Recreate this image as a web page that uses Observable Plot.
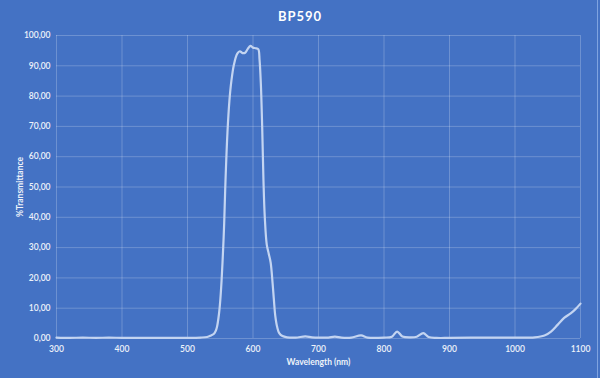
<!DOCTYPE html>
<html>
<head>
<meta charset="utf-8">
<script src="https://cdn.jsdelivr.net/npm/d3@7"></script>
<script src="https://cdn.jsdelivr.net/npm/@observablehq/plot@0.6"></script>
<style>
  html, body { margin: 0; padding: 0; background: #4472C4; }
  #chart { position: relative; width: 600px; height: 378px; background: #4472C4; overflow: hidden; }
  #title { position: absolute; top: 8px; left: 0; width: 600px; text-align: center; font: bold 13px Lato, "Open Sans", sans-serif; color: #ffffff; letter-spacing: 1px; }
  #chart svg { position: absolute; left: 0; top: 0; }
  #border { position: absolute; right: 2px; top: 0; width: 1px; height: 378px; background: #7fa3e0; }
  #chart svg g[aria-label="x-axis label"], #chart svg g[aria-label="y-axis label"] { font-weight: bold; }
</style>
</head>
<body>
<div id="chart"><div id="title">BP590</div><div id="border"></div></div>
<script>
const title = "BP590";
const xLabel = "Wavelength (nm)";
const yLabel = "%Transmittance";
const xTicks = [300, 400, 500, 600, 700, 800, 900, 1000, 1100];
const yTicks = [0, 10, 20, 30, 40, 50, 60, 70, 80, 90, 100];

const wavelength = [300, 320, 340, 360, 380, 400, 420, 440, 460, 480, 500, 520, 530, 535, 540, 543, 545, 548, 550, 552, 554.5, 556, 558, 561, 564, 567, 571, 576, 580, 584, 588, 592, 596, 600, 604, 608, 610, 612, 614, 616, 618, 621, 624, 627, 630, 632, 634, 637, 640, 645, 652, 665, 680, 690, 705, 715, 725, 735, 750, 765, 775, 800, 812, 820, 828, 840, 850, 860, 868, 880, 900, 950, 1000, 1030, 1045, 1055, 1065, 1075, 1085, 1092, 1100];
const transmittance = [0.3, 0.2, 0.3, 0.2, 0.3, 0.2, 0.2, 0.2, 0.2, 0.2, 0.2, 0.3, 0.5, 0.9, 1.5, 2.5, 3.8, 8, 12.5, 19, 30, 38, 52, 68, 78.5, 85, 90.5, 94, 94.8, 94.2, 94.3, 95.6, 96.6, 96.0, 95.8, 95.5, 92, 84, 70, 52, 40, 31, 28, 25, 18, 12.5, 7.5, 3.7, 1.8, 0.8, 0.4, 0.3, 0.7, 0.4, 0.3, 0.3, 0.6, 0.3, 0.3, 1.0, 0.3, 0.3, 0.6, 2.3, 0.7, 0.4, 0.6, 1.75, 0.5, 0.2, 0.2, 0.3, 0.3, 0.4, 1.0, 2.3, 4.5, 6.8, 8.3, 9.6, 11.5];

const data = wavelength.map((w, i) => ({w, t: transmittance[i]}));
const fmt = d => d3.format(".2f")(d).replace(".", ",");
const font = "Lato, 'Open Sans', sans-serif";

const plot = Plot.plot({
  width: 600,
  height: 378,
  marginTop: 35,
  marginBottom: 40,
  marginLeft: 56,
  marginRight: 20,
  style: {background: "transparent", color: "#ffffff", fontFamily: font, fontSize: "8.5px", fontWeight: "600"},
  x: {domain: [300, 1100]},
  y: {domain: [0, 100]},
  marks: [
    Plot.gridX(xTicks, {stroke: "#ffffff", strokeOpacity: 0.22, strokeWidth: 1}),
    Plot.gridY(yTicks, {stroke: "#ffffff", strokeOpacity: 0.22, strokeWidth: 1}),
    Plot.axisX(xTicks, {tickSize: 0, tickPadding: 7, label: xLabel, labelAnchor: "center", labelArrow: "none", labelOffset: 26, tickFormat: d => String(d), fill: "#eef2fa"}),
    Plot.axisY(yTicks, {tickSize: 0, tickPadding: 6, label: yLabel, labelAnchor: "center", labelArrow: "none", labelOffset: 40, tickFormat: fmt, fill: "#eef2fa"}),
    Plot.line(data, {x: "w", y: "t", stroke: "#c3d4f1", strokeWidth: 2.2, curve: "catmull-rom"})
  ]
});
document.getElementById("chart").insertBefore(plot, document.getElementById("title"));
</script>
</body>
</html>
